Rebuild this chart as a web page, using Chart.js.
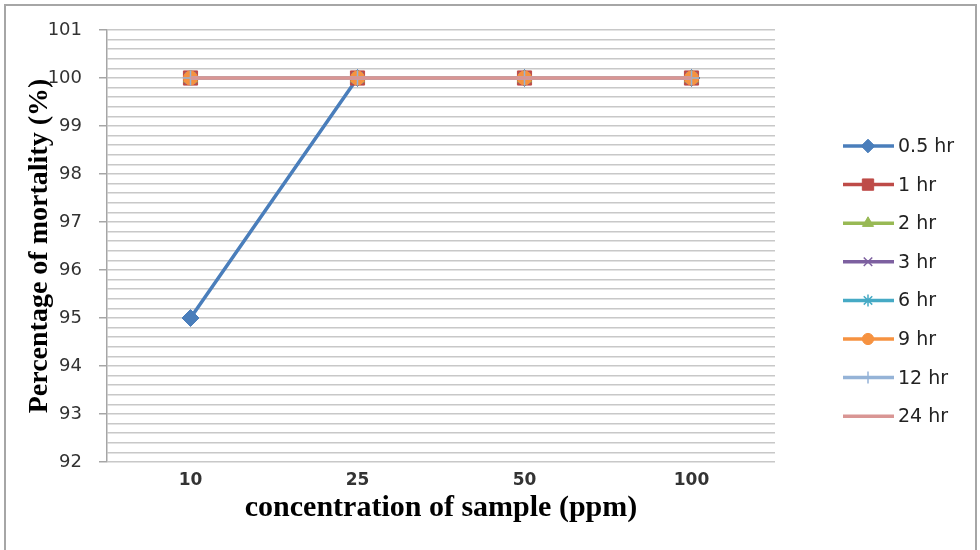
<!DOCTYPE html>
<html>
<head>
<meta charset="utf-8">
<script src="https://cdn.jsdelivr.net/npm/chart.js@4/dist/chart.umd.min.js"></script>
<style>
  html, body { margin: 0; padding: 0; background: #fff; }
  #wrap { width: 980px; height: 550px; }
</style>
</head>
<body>
<div id="wrap"><canvas id="chart" width="980" height="550"></canvas></div>
<script>
// categories (ppm)
const concentrations = ['10', '25', '50', '100'];

// mortality (%) per exposure time
const mort05hr = [95, 100, 100, 100];
const mort1hr  = [100, 100, 100, 100];
const mort2hr  = [100, 100, 100, 100];
const mort3hr  = [100, 100, 100, 100];
const mort6hr  = [100, 100, 100, 100];
const mort9hr  = [100, 100, 100, 100];
const mort12hr = [100, 100, 100, 100];
const mort24hr = [100, 100, 100, 100];

const seriesNames = ['0.5 hr', '1 hr', '2 hr', '3 hr', '6 hr', '9 hr', '12 hr', '24 hr'];
const seriesValues = [mort05hr, mort1hr, mort2hr, mort3hr, mort6hr, mort9hr, mort12hr, mort24hr];

// y axis: labels every 1, grid every 0.2
const yMin = 92, yMax = 101, yMinorStep = 0.2;

const colors  = ['#4A7EBB', '#BE4B48', '#98B954', '#7D60A0', '#46AAC5', '#F69240', '#95B3D7', '#D99694'];
const markers = ['rectRot', 'rect', 'triangle', 'crossRot', 'star', 'circle', 'cross', false];
const radii   = [8.5, 10, 8, 7.5, 7.5, 7, 7.5, 0];

const sansFont = '"DejaVu Sans", "Open Sans", sans-serif';
const serifFont = '"Liberation Serif", "Times New Roman", serif';

function isMajor(v) { return Math.abs(v - Math.round(v)) < 1e-6; }

const datasets = seriesNames.map((name, i) => ({
  label: name,
  data: seriesValues[i],
  borderColor: colors[i],
  backgroundColor: colors[i],
  pointBackgroundColor: colors[i],
  pointBorderColor: colors[i],
  pointStyle: markers[i] || 'circle',
  pointRadius: radii[i],
  pointBorderWidth: ['crossRot', 'star', 'cross'].includes(markers[i]) ? 1.5 : 1,
  borderWidth: 3.5,
  tension: 0,
  fill: false,
  order: seriesNames.length - 1 - i   // later series drawn on top, like Excel
}));

// side legend: line with marker in the middle
const sideLegend = {
  id: 'sideLegend',
  afterDraw(c) {
    const ctx = c.ctx;
    ctx.save();
    c.data.datasets.forEach((ds, i) => {
      const y = 146 + i * 38.6;
      ctx.strokeStyle = ds.borderColor;
      ctx.lineWidth = 3.5;
      ctx.beginPath();
      ctx.moveTo(843, y);
      ctx.lineTo(894, y);
      ctx.stroke();
      if (markers[i] && Chart.helpers && Chart.helpers.drawPoint) {
        ctx.fillStyle = ds.borderColor;
        ctx.strokeStyle = ds.borderColor;
        ctx.lineWidth = ds.pointBorderWidth;
        Chart.helpers.drawPoint(ctx, {
          pointStyle: markers[i], rotation: 0,
          radius: radii[i] * 0.8, borderWidth: ds.pointBorderWidth
        }, 868, y);
      }
      ctx.fillStyle = '#222';
      ctx.font = '19px ' + sansFont;
      ctx.textAlign = 'left';
      ctx.textBaseline = 'middle';
      ctx.fillText(ds.label, 898, y + 1);
    });
    ctx.restore();
  }
};

// white background + grey frame round the chart
const frame = {
  id: 'frame',
  beforeDraw(c) {
    const ctx = c.ctx;
    ctx.save();
    ctx.fillStyle = '#fff';
    ctx.fillRect(0, 0, c.width, c.height);
    ctx.restore();
  },
  afterDraw(c) {
    const ctx = c.ctx;
    ctx.save();
    ctx.strokeStyle = '#a6a6a6';
    ctx.lineWidth = 2;
    ctx.strokeRect(5, 5, c.width - 9, c.height + 10);
    ctx.restore();
  }
};

const chart = new Chart(document.getElementById('chart').getContext('2d'), {
  type: 'line',
  data: { labels: concentrations, datasets },
  options: {
    responsive: false,
    animation: false,
    devicePixelRatio: 1,
    layout: { padding: { left: 0, right: 205, top: 30, bottom: 0 } },
    plugins: {
      legend: { display: false },
      tooltip: { enabled: false }
    },
    scales: {
      x: {
        offset: true,
        grid: { display: false, drawTicks: false },
        border: { display: false },
        ticks: {
          padding: 8,
          color: '#333',
          font: { family: sansFont, size: 17, weight: 'bold' }
        },
        title: {
          display: true,
          text: 'concentration of sample (ppm)',
          color: '#000',
          font: { family: serifFont, size: 30, weight: 'bold' },
          padding: { top: 0, bottom: 24 }
        },
        afterFit: s => { s.height = 88; }
      },
      y: {
        min: yMin,
        max: yMax,
        afterBuildTicks: s => {
          const ticks = [];
          const n = Math.round((yMax - yMin) / yMinorStep);
          for (let k = 0; k <= n; k++) ticks.push({ value: Math.round((yMin + k * yMinorStep) * 1000) / 1000 });
          s.ticks = ticks;
        },
        grid: {
          color: '#c8c8c8',
          lineWidth: 1.5,
          drawTicks: true,
          tickLength: 8,
          tickColor: ctx => (ctx.tick && isMajor(ctx.tick.value)) ? '#a6a6a6' : 'rgba(0,0,0,0)'
        },
        border: { display: true, color: '#a6a6a6', width: 1.5 },
        ticks: {
          autoSkip: false,
          padding: 17,
          color: '#333',
          font: { family: sansFont, size: 18 },
          callback: v => isMajor(v) ? String(Math.round(v)) : ''
        },
        title: {
          display: true,
          text: 'Percentage of mortality (%)',
          color: '#000',
          font: { family: serifFont, size: 28, weight: 'bold' },
          padding: { top: 23, bottom: 0 }
        },
        afterFit: s => { s.width = 107; }
      }
    }
  },
  plugins: [frame, sideLegend]
});
</script>
</body>
</html>
